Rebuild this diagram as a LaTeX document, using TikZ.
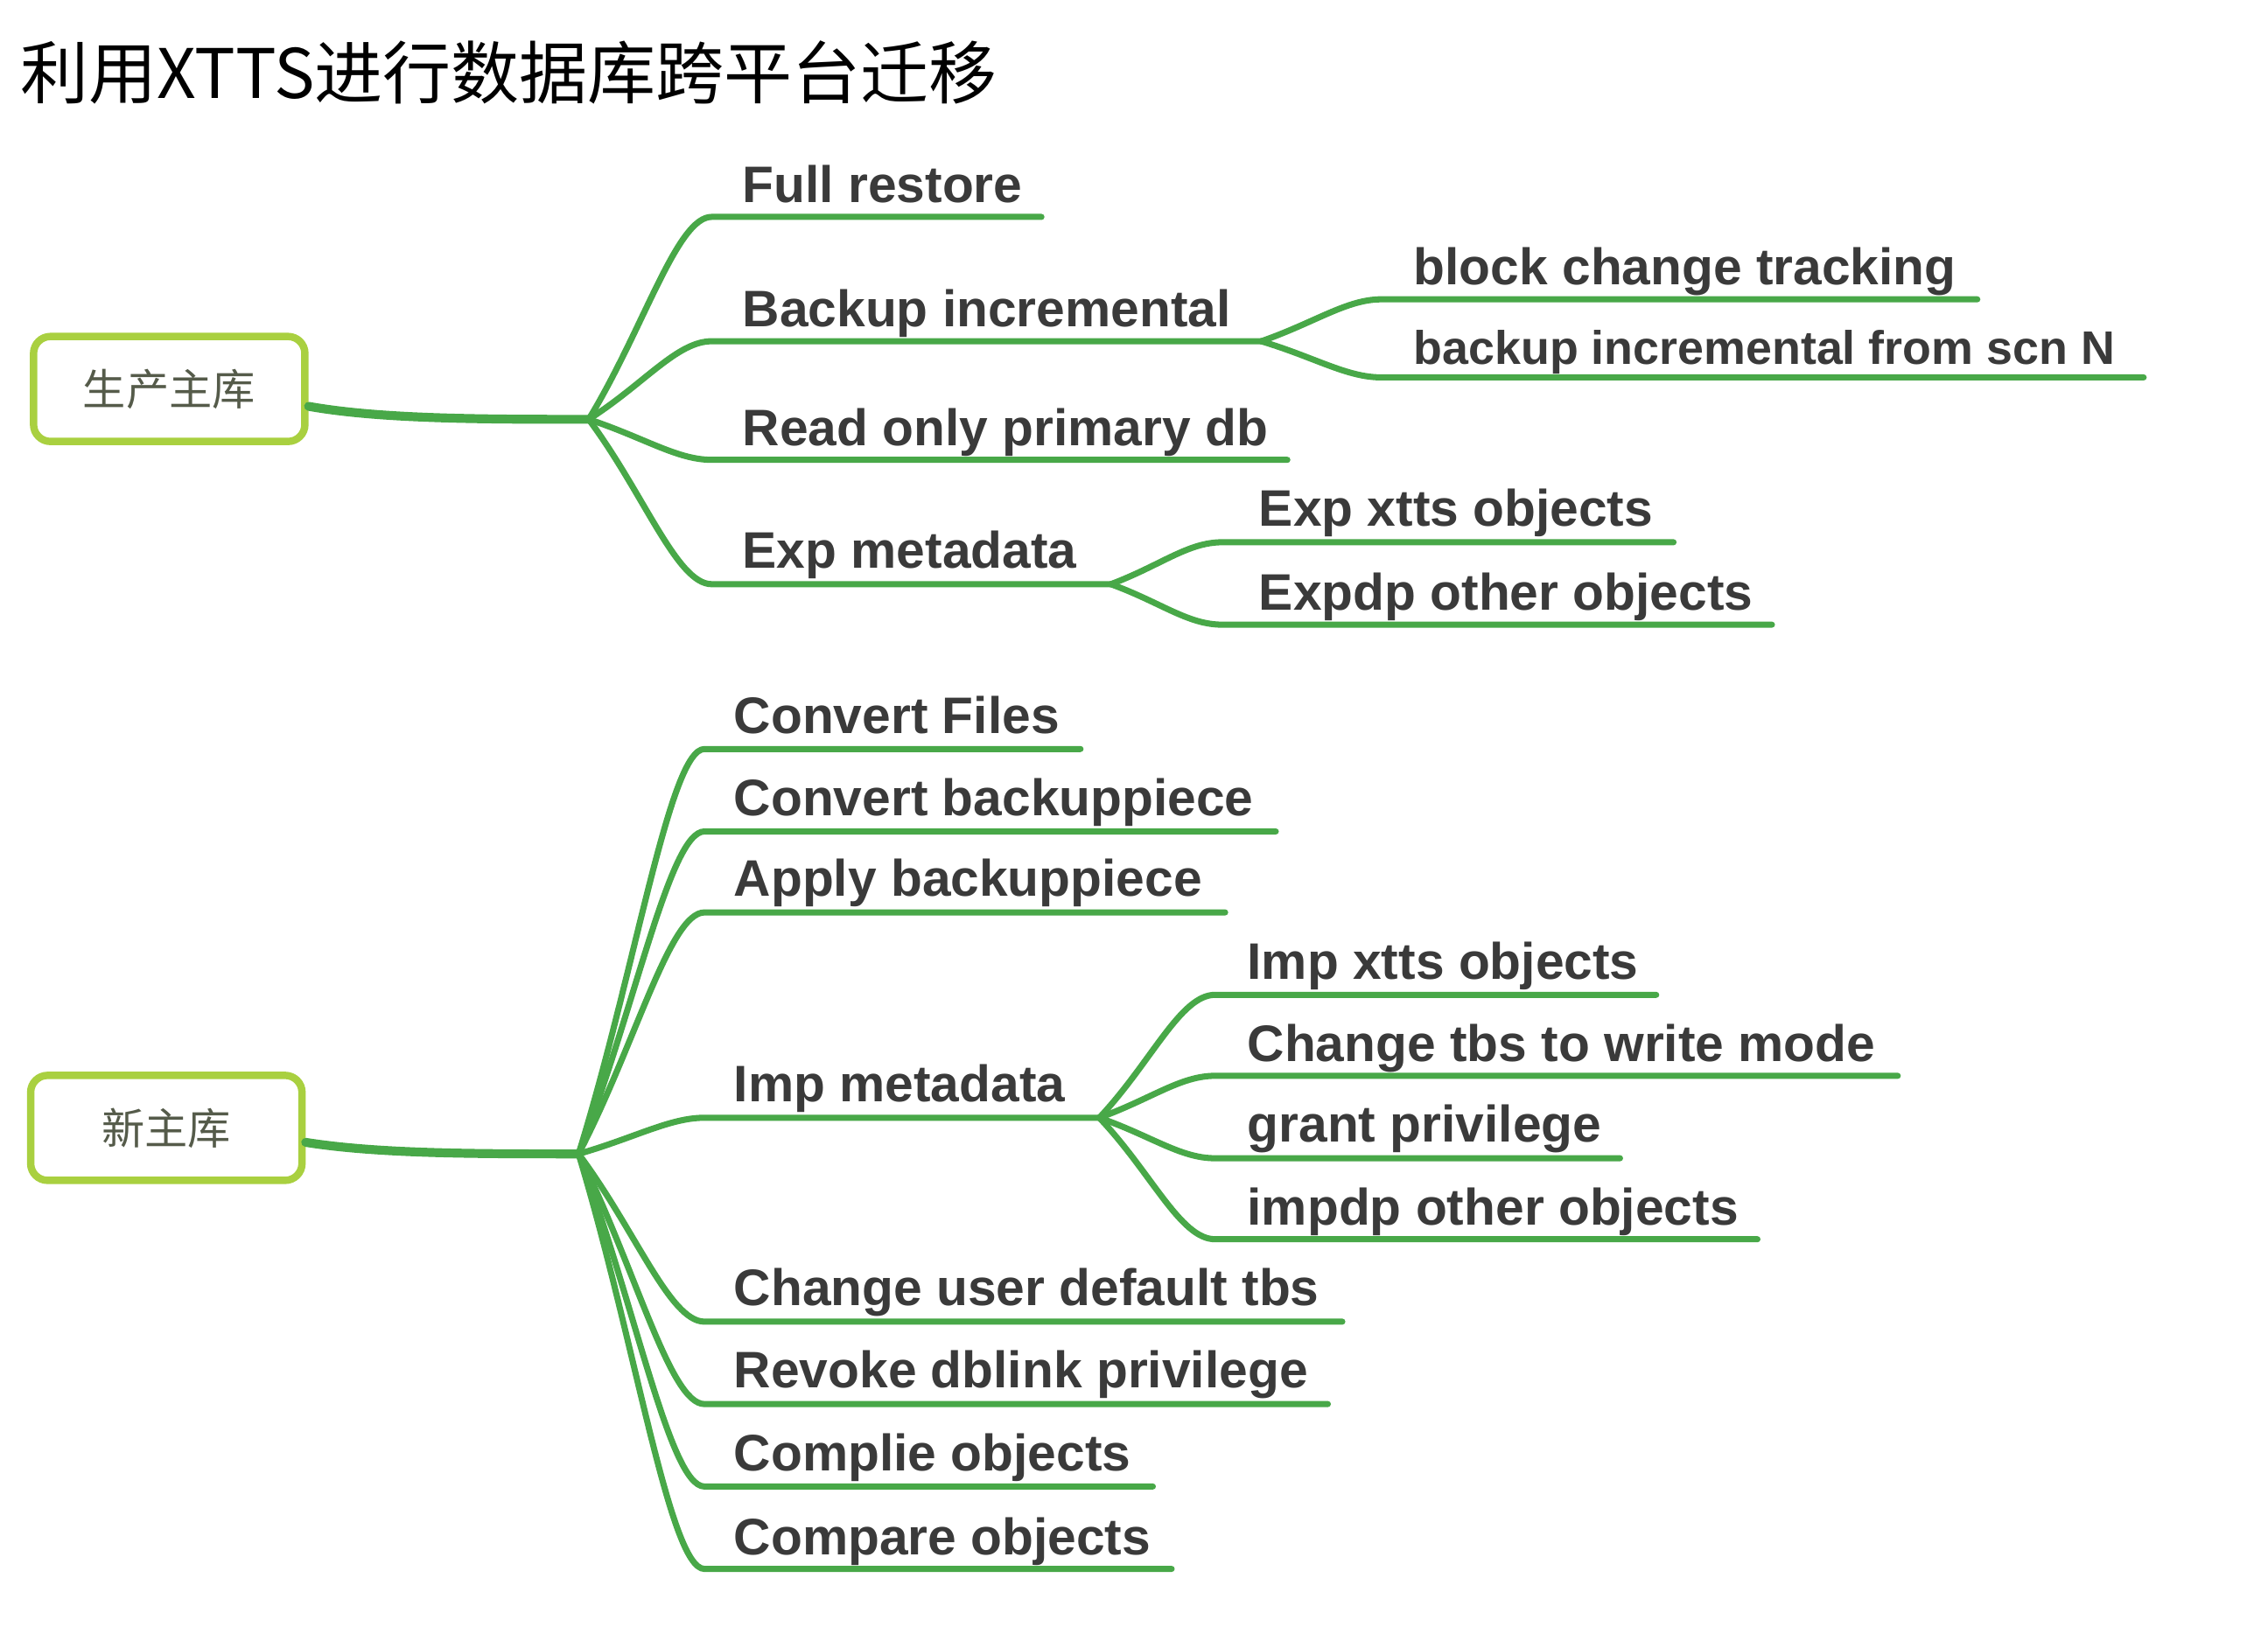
\documentclass[tikz,border=0pt]{standalone}
\usepackage{fontspec}
\setmainfont{Liberation Sans}
\newfontfamily\cjk{Noto Sans CJK SC}
\usetikzlibrary{calc}
\definecolor{lg}{HTML}{48A848}
\definecolor{boxc}{HTML}{A9D040}
\definecolor{txt}{HTML}{3A3A3A}
\definecolor{roottxt}{HTML}{555B4A}
\newcommand\limb[4]{\draw[#1] (#2) .. controls ($(#2)!0.45!(#3)$) and ($(#3)+(-24,0)$) .. (#3) -- (#4);}
\begin{document}
\begin{tikzpicture}[x=0.01653cm,y=-0.01653cm,
  lbl/.style={anchor=base west, inner sep=0, font=\fontsize{16.7}{16.7}\selectfont\bfseries, text=txt},
  rootbox/.style={draw=boxc, line width=2.4pt, rounded corners=5.5pt, minimum width=3.1cm, minimum height=1.2cm, font=\cjk\fontsize{14}{14}\selectfont, text=roottxt},
  br/.style={draw=lg, line width=2pt, line cap=round},
  trunk/.style={draw=lg, line width=2.9pt, line cap=round}]
\useasboundingbox (0,0) rectangle (1568,1130);
% title
\node[anchor=west, inner sep=0, font=\cjk\fontsize{22.2}{22.2}\selectfont] (title) at (14,50) {利用XTTS进行数据库跨平台迁移};
% roots
\node[rootbox] (r1) at (117,269) {生产主库};
\node[rootbox] (r2) at (115,780) {新主库};
% junctions
\coordinate (J1) at (407,290);
\coordinate (J2) at (400,798);
\coordinate (r1o) at ($(r1.east)+(0,12)$);
\coordinate (r2o) at ($(r2.east)+(0,10)$);
\draw[trunk] (r1o) .. controls +(50,9) and +(-70,0) .. (J1);
\draw[trunk] (r2o) .. controls +(50,8) and +(-70,0) .. (J2);
% ---- upper tree
\coordinate (S1) at (872,236);
\coordinate (S2) at (768,404);
\node[lbl] (n1) at (513,140) {Full restore};
\node[lbl] (n2) at (513,226) {Backup incremental};
\node[lbl] (n3) at (513,308) {Read only primary db};
\node[lbl] (n4) at (513,393) {Exp metadata};
\node[lbl] (n21) at (977,197) {block change tracking};
\node[lbl, font=\fontsize{15.3}{15.3}\selectfont\bfseries] (n22) at (977,252) {backup incremental from scn N};
\node[lbl] (n41) at (870,364) {Exp xtts objects};
\node[lbl] (n42) at (870,422) {Expdp other objects};
\coordinate (a1) at (492,150); \coordinate (b1) at (720,150);
\coordinate (a2) at (492,236);
\coordinate (a3) at (492,318); \coordinate (b3) at (890,318);
\coordinate (a4) at (492,404);
\coordinate (a21) at (955,207); \coordinate (b21) at (1367,207);
\coordinate (a22) at (955,261); \coordinate (b22) at (1482,261);
\coordinate (a41) at (845,375); \coordinate (b41) at (1157,375);
\coordinate (a42) at (845,432); \coordinate (b42) at (1225,432);
\limb{br}{J1}{a1}{b1}
\limb{br}{J1}{a2}{S1}
\limb{br}{J1}{a3}{b3}
\limb{br}{J1}{a4}{S2}
\limb{br}{S1}{a21}{b21}
\limb{br}{S1}{a22}{b22}
\limb{br}{S2}{a41}{b41}
\limb{br}{S2}{a42}{b42}
% ---- lower tree
\coordinate (S3) at (760,773);
\node[lbl] (m1) at (507,507) {Convert Files};
\node[lbl] (m2) at (507,564) {Convert backuppiece};
\node[lbl] (m3) at (507,620) {Apply backuppiece};
\node[lbl] (m4) at (507,762) {Imp metadata};
\node[lbl] (m5) at (507,903) {Change user default tbs};
\node[lbl] (m6) at (507,960) {Revoke dblink privilege};
\node[lbl] (m7) at (507,1017) {Complie objects};
\node[lbl] (m8) at (507,1075) {Compare objects};
\node[lbl] (m41) at (862,677) {Imp xtts objects};
\node[lbl] (m42) at (862,734) {Change tbs to write mode};
\node[lbl] (m43) at (862,790) {grant privilege};
\node[lbl] (m44) at (862,847) {impdp other objects};
\coordinate (c1) at (487,518); \coordinate (d1) at (747,518);
\coordinate (c2) at (487,575); \coordinate (d2) at (882,575);
\coordinate (c3) at (487,631); \coordinate (d3) at (847,631);
\coordinate (c4) at (487,773);
\coordinate (c5) at (487,914); \coordinate (d5) at (928,914);
\coordinate (c6) at (487,971); \coordinate (d6) at (918,971);
\coordinate (c7) at (487,1028); \coordinate (d7) at (797,1028);
\coordinate (c8) at (487,1085); \coordinate (d8) at (810,1085);
\coordinate (c41) at (840,688); \coordinate (d41) at (1145,688);
\coordinate (c42) at (840,744); \coordinate (d42) at (1312,744);
\coordinate (c43) at (840,801); \coordinate (d43) at (1120,801);
\coordinate (c44) at (840,857); \coordinate (d44) at (1215,857);
\limb{br}{J2}{c1}{d1}
\limb{br}{J2}{c2}{d2}
\limb{br}{J2}{c3}{d3}
\limb{br}{J2}{c4}{S3}
\limb{br}{J2}{c5}{d5}
\limb{br}{J2}{c6}{d6}
\limb{br}{J2}{c7}{d7}
\limb{br}{J2}{c8}{d8}
\limb{br}{S3}{c41}{d41}
\limb{br}{S3}{c42}{d42}
\limb{br}{S3}{c43}{d43}
\limb{br}{S3}{c44}{d44}
\end{tikzpicture}
\end{document}
